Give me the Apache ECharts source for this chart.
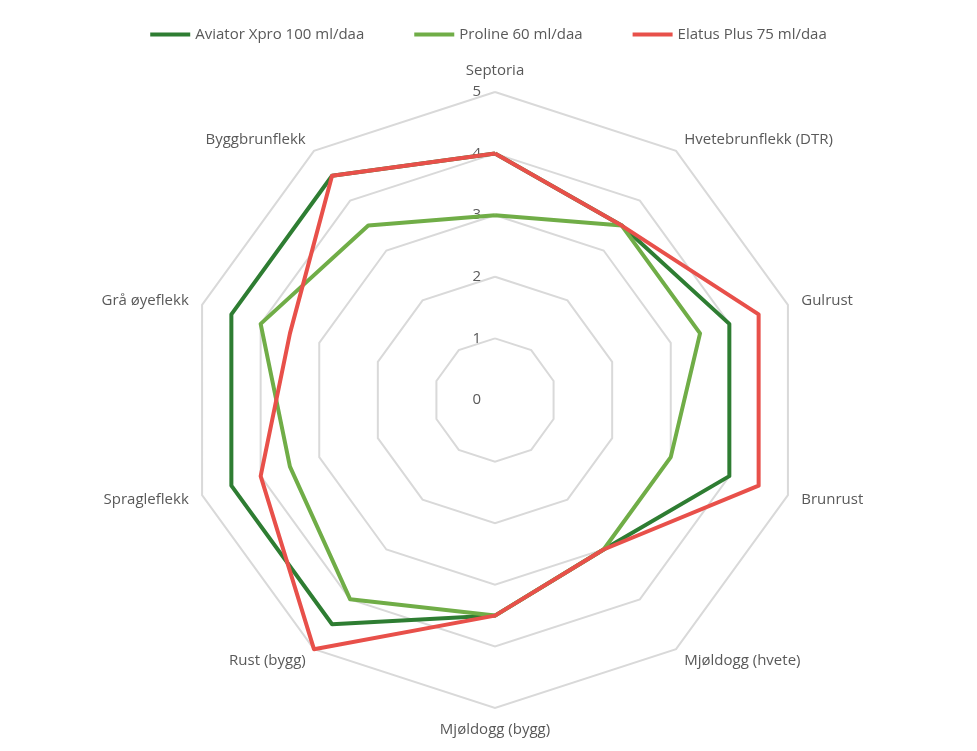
<!DOCTYPE html><html><head><meta charset="utf-8"><script src="https://cdn.jsdelivr.net/npm/echarts@6/dist/echarts.min.js"></script></head><body style="margin:0"><div id="c" style="width:977px;height:751px"></div><script>
const categories=['Septoria','Hvetebrunflekk (DTR)','Gulrust','Brunrust','Mjøldogg (hvete)','Mjøldogg (bygg)','Rust (bygg)','Spragleflekk','Grå øyeflekk','Byggbrunflekk'];
const aviator=[4,3.5,4,4,3,3.5,4.5,4.5,4.5,4.5];
const proline=[3,3.5,3.5,3,3,3.5,4,3.5,4,3.5];
const elatus=[4,3.5,4.5,4.5,3,3.5,5,4,3.5,4.5];
const names=['Aviator Xpro 100 ml/daa','Proline 60 ml/daa','Elatus Plus 75 ml/daa'];
const colors=['#2E7D32','#70AD47','#E8504A'];
// ECharts radar runs counter-clockwise; reorder so categories go clockwise
const order=[0,...categories.map((_,i)=>i).slice(1).reverse()];
const ro=a=>order.map(i=>a[i]);
const ch=echarts.init(document.getElementById('c'));
ch.setOption({
 color:colors,
 legend:{top:22,left:'center',itemWidth:40,itemHeight:4,itemGap:50,icon:'rect',textStyle:{fontFamily:'Open Sans',fontSize:15,color:'#595959'},data:names},
 radar:{center:[495,400],radius:308,startAngle:90,shape:'polygon',splitNumber:5,
  indicator:ro(categories).map((n,i)=>({name:n,min:0,max:5,axisLabel:{show:i===0}})),
  axisName:{color:'#595959',fontFamily:'Open Sans',fontSize:15},nameGap:14,
  axisLine:{show:false},axisTick:{show:false},
  axisLabel:{show:true,color:'#595959',fontFamily:'Open Sans',fontSize:15,margin:14,showMinLabel:true},
  splitLine:{lineStyle:{color:'#d9d9d9',width:2}},splitArea:{show:false}},
 series:[{type:'radar',symbol:'none',lineStyle:{width:4},data:[
  {name:names[0],value:ro(aviator),lineStyle:{color:colors[0],width:4}},
  {name:names[1],value:ro(proline),lineStyle:{color:colors[1],width:4}},
  {name:names[2],value:ro(elatus),lineStyle:{color:colors[2],width:4}}]}]
});
</script></body></html>
